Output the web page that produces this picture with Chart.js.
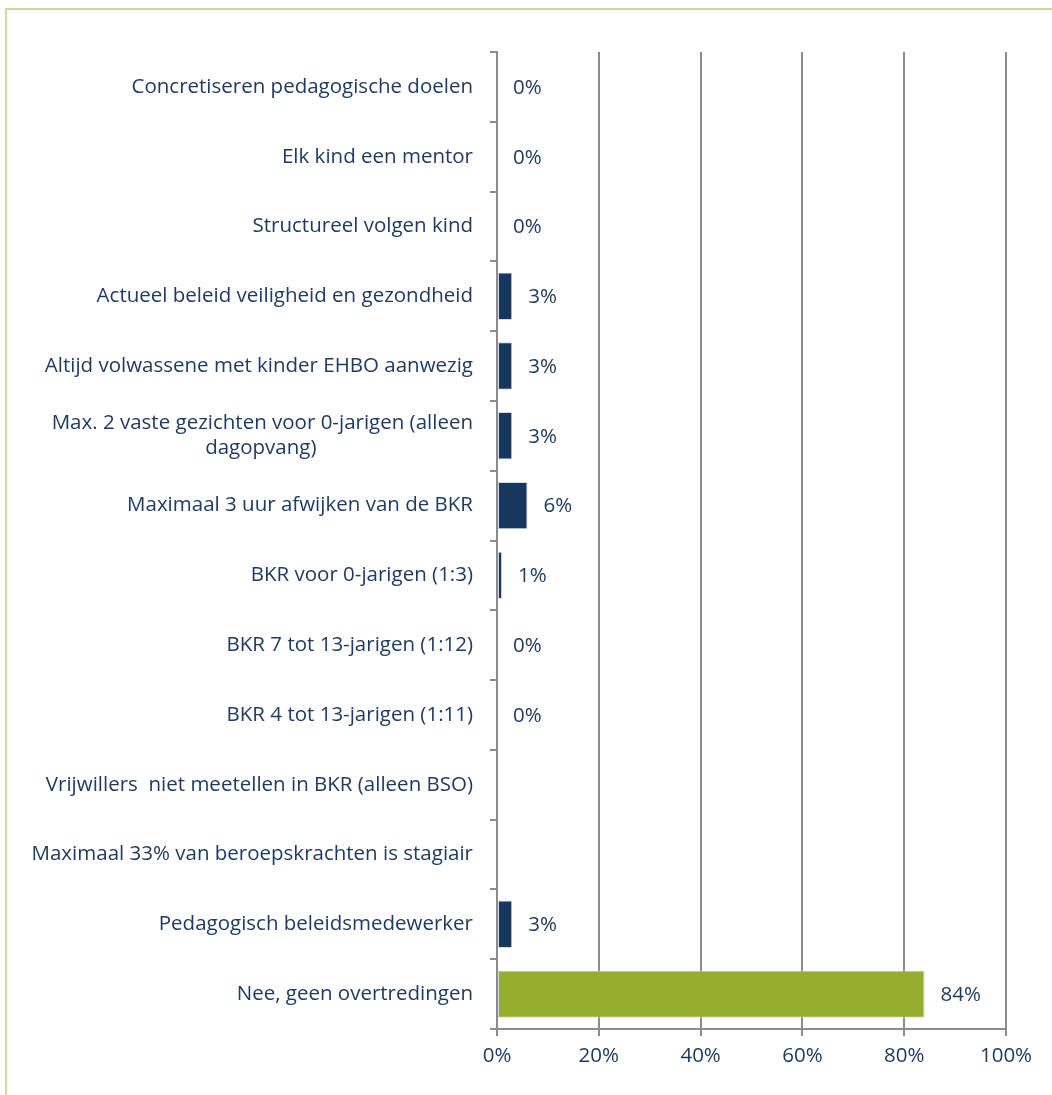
<!DOCTYPE html>
<html>
<head>
<meta charset="utf-8">
<script src="https://cdn.jsdelivr.net/npm/chart.js@4.4.1/dist/chart.umd.min.js"></script>
<style>
  body { margin: 0; background: #fff; }
  #wrap { position: relative; width: 1052px; height: 1095px; overflow: hidden; }
  #frame {
    position: absolute; left: 5px; top: 8px; width: 1200px; height: 1200px;
    border-top: 2px solid #c5dda0; border-left: 2px solid #c5dda0;
  }
  canvas { position: absolute; left: 0; top: 0; }
</style>
</head>
<body>
<div id="wrap">
  <div id="frame"></div>
  <canvas id="chart" width="1052" height="1095"></canvas>
</div>
<script>
const categories = [
    "Concretiseren pedagogische doelen",
    "Elk kind een mentor",
    "Structureel volgen kind",
    "Actueel beleid veiligheid en gezondheid",
    "Altijd volwassene met kinder EHBO aanwezig",
    "Max. 2 vaste gezichten voor 0-jarigen (alleen|dagopvang)",
    "Maximaal 3 uur afwijken van de BKR",
    "BKR voor 0-jarigen (1:3)",
    "BKR 7 tot 13-jarigen (1:12)",
    "BKR 4 tot 13-jarigen (1:11)",
    "Vrijwillers  niet meetellen in BKR (alleen BSO)",
    "Maximaal 33% van beroepskrachten is stagiair",
    "Pedagogisch beleidsmedewerker",
    "Nee, geen overtredingen"
];
const values = [0, 0, 0, 3, 3, 3, 6, 1, 0, 0, null, null, 3, 84];
const xTicks = [0, 20, 40, 60, 80, 100];

const textColor = "#1f3b63";
const gridColor = "#8c8c8c";
const navy = "#17375e";
const green = "#94ae2d";
const FONT = "'Open Sans'";
const SIZE = 20.5;

// wrapped labels: second line centred under the first
const mctx = document.createElement("canvas").getContext("2d");
mctx.font = SIZE + "px " + FONT;
const labels = categories.map(c => {
    if (c.indexOf("|") < 0) return c;
    const parts = c.split("|");
    const w1 = mctx.measureText(parts[0]).width;
    const w2 = mctx.measureText(parts[1]).width;
    const sp = mctx.measureText("\u2009").width || 3;
    const n = Math.round((w1 - w2) / 2 / sp);
    return [parts[0], parts[1] + "\u2009".repeat(n)];
});

const valueLabels = {
    id: "valueLabels",
    afterDatasetsDraw(chart) {
        const ctx = chart.ctx;
        const meta = chart.getDatasetMeta(0);
        ctx.save();
        ctx.font = SIZE + "px " + FONT;
        ctx.fillStyle = textColor;
        ctx.textAlign = "left";
        ctx.textBaseline = "middle";
        meta.data.forEach((bar, i) => {
            if (values[i] === null) return;
            ctx.fillText(values[i] + "%", bar.x + 16, bar.y + 1);
        });
        ctx.restore();
    }
};

new Chart(document.getElementById("chart"), {
    type: "bar",
    data: {
        labels: labels,
        datasets: [{
            data: values,
            backgroundColor: values.map((v, i) => i === values.length - 1 ? green : navy),
            borderColor: "#d9d9d9",
            borderWidth: 1,
            borderSkipped: false,
            barPercentage: 0.68,
            categoryPercentage: 1
        }]
    },
    options: {
        indexAxis: "y",
        responsive: false,
        animation: false,
        layout: { padding: { top: 52, right: 46, left: 0, bottom: 0 } },
        plugins: {
            legend: { display: false },
            tooltip: { enabled: false }
        },
        scales: {
            x: {
                min: 0,
                max: 100,
                afterFit: s => { s.height = 66; },
                afterBuildTicks: s => { s.ticks = xTicks.map(v => ({ value: v })); },
                ticks: {
                    color: textColor,
                    font: { family: FONT, size: SIZE },
                    padding: 8,
                    callback: v => v + "%"
                },
                grid: { color: gridColor, lineWidth: 2, tickLength: 7 },
                border: { color: gridColor, width: 2 }
            },
            y: {
                afterFit: s => { s.width = 497; },
                ticks: {
                    color: textColor,
                    font: { family: FONT, size: SIZE, lineHeight: 1.25 },
                    padding: 17,
                    autoSkip: false
                },
                grid: { drawOnChartArea: false, offset: true, color: gridColor, lineWidth: 2, tickLength: 7 },
                border: { color: gridColor, width: 2 }
            }
        }
    },
    plugins: [valueLabels]
});
</script>
</body>
</html>
